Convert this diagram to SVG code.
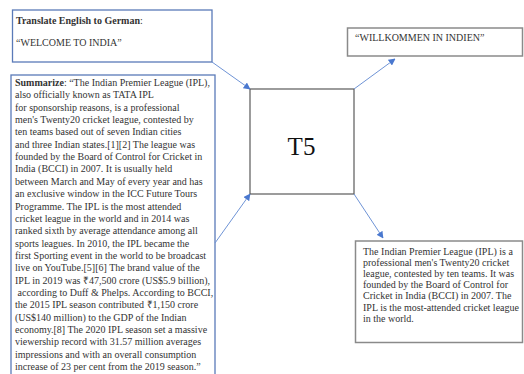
<svg xmlns="http://www.w3.org/2000/svg" width="524" height="374" viewBox="0 0 524 374">
<defs>
<style>
.t{font-family:"Liberation Serif","Times New Roman",serif;font-size:10px;fill:#333}
.b{font-weight:bold}
.blue{fill:#fff;stroke:#5a7ab8;stroke-width:1.3}
.grey{fill:#fff;stroke:#8a8a8a;stroke-width:1.5}
.conn{stroke:#6f94d6;stroke-width:1;fill:none;marker-end:url(#ah)}
</style>
<marker id="ah" viewBox="0 0 10 10" refX="9" refY="5" markerWidth="7" markerHeight="7" orient="auto" markerUnits="userSpaceOnUse">
<path d="M0,0 L10,5 L0,10 z" fill="#4a78cf"/>
</marker>
</defs>
<rect width="524" height="374" fill="#fff"/>
<g id="translate">
<rect class="blue" x="12.5" y="10" width="199.5" height="52"/>
<text class="t" x="16" y="24"><tspan class="b">Translate English to German</tspan>:</text>
<text class="t" x="16" y="46">“WELCOME TO INDIA”</text>
</g>
<g id="summarize">
<rect class="blue" x="11" y="75" width="204" height="302"/>
<text class="t" x="15" y="86"><tspan class="b">Summarize</tspan>: “The Indian Premier League (IPL),</text>
<text class="t" x="15" y="98.35">also officially known as TATA IPL</text>
<text class="t" x="15" y="110.7">for sponsorship reasons, is a professional</text>
<text class="t" x="15" y="123.05">men's Twenty20 cricket league, contested by</text>
<text class="t" x="15" y="135.4">ten teams based out of seven Indian cities</text>
<text class="t" x="15" y="147.75">and three Indian states.[1][2] The league was</text>
<text class="t" x="15" y="160.1">founded by the Board of Control for Cricket in</text>
<text class="t" x="15" y="172.45">India (BCCI) in 2007. It is usually held</text>
<text class="t" x="15" y="184.8">between March and May of every year and has</text>
<text class="t" x="15" y="197.15">an exclusive window in the ICC Future Tours</text>
<text class="t" x="15" y="209.5">Programme. The IPL is the most attended</text>
<text class="t" x="15" y="221.85">cricket league in the world and in 2014 was</text>
<text class="t" x="15" y="234.2">ranked sixth by average attendance among all</text>
<text class="t" x="15" y="246.55">sports leagues. In 2010, the IPL became the</text>
<text class="t" x="15" y="258.9">first Sporting event in the world to be broadcast</text>
<text class="t" x="15" y="271.25">live on YouTube.[5][6] The brand value of the</text>
<text class="t" x="15" y="283.6">IPL in 2019 was ₹47,500 crore (US$5.9 billion),</text>
<text class="t" x="17.5" y="295.95">according to Duff &amp; Phelps. According to BCCI,</text>
<text class="t" x="15" y="308.3">the 2015 IPL season contributed ₹1,150 crore</text>
<text class="t" x="15" y="320.65">(US$140 million) to the GDP of the Indian</text>
<text class="t" x="15" y="333">economy.[8] The 2020 IPL season set a massive</text>
<text class="t" x="15" y="345.35">viewership record with 31.57 million averages</text>
<text class="t" x="15" y="357.7">impressions and with an overall consumption</text>
<text class="t" x="15" y="370.05">increase of 23 per cent from the 2019 season.”</text>
</g>
<g id="t5">
<rect x="250" y="89" width="104" height="105" fill="#fff" stroke="#5a5a5a" stroke-width="1.2"/>
<text x="301.5" y="155" text-anchor="middle" font-family="Liberation Serif, Times New Roman, serif" font-size="25" fill="#111">T5</text>
</g>
<g id="german">
<rect class="grey" x="347.5" y="28" width="175" height="28"/>
<text class="t" x="355" y="40.5">“WILLKOMMEN IN INDIEN”</text>
</g>
<g id="summary">
<rect class="grey" x="355.5" y="241" width="167" height="101.5"/>
<text class="t" x="363" y="254.5">The Indian Premier League (IPL) is a</text>
<text class="t" x="363" y="265.7">professional men's Twenty20 cricket</text>
<text class="t" x="363" y="276.9">league, contested by ten teams. It was</text>
<text class="t" x="363" y="288.1">founded by the Board of Control for</text>
<text class="t" x="363" y="299.3">Cricket in India (BCCI) in 2007. The</text>
<text class="t" x="363" y="310.5">IPL is the most-attended cricket league</text>
<text class="t" x="363" y="321.7">in the world.</text>
</g>
<g id="connectors">
<path class="conn" d="M212,62 L250,89"/>
<path class="conn" d="M215,243 L250,194"/>
<path class="conn" d="M354,89 L395,59"/>
<path class="conn" d="M354,194 L383,238"/>
</g>
</svg>
